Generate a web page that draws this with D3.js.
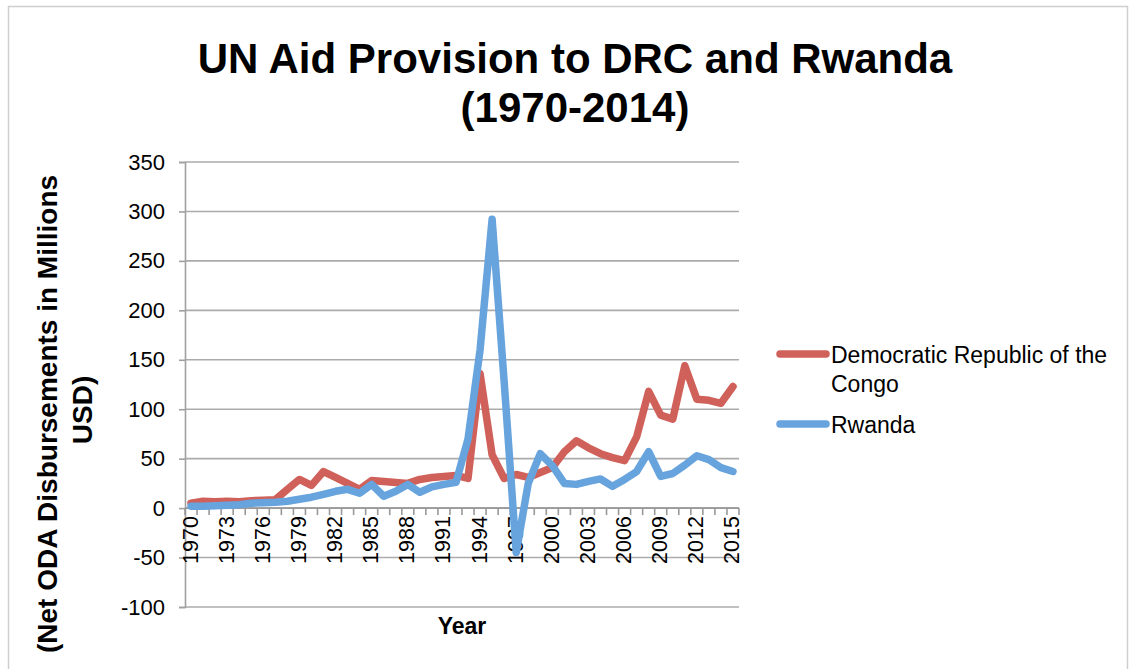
<!DOCTYPE html>
<html>
<head>
<meta charset="UTF-8">
<title>UN Aid Provision to DRC and Rwanda</title>
<script src="https://cdn.jsdelivr.net/npm/d3@7"></script>
<style>
  body { margin: 0; background: #fff; }
  text { font-family: "Liberation Sans", Arial, sans-serif; fill: #000; }
</style>
</head>
<body>
<script>
// years 1970..2015 on a category axis
var years = d3.range(1970, 2016);
var yTicks = [-100, -50, 0, 50, 100, 150, 200, 250, 300, 350];

var drc = [5, 7, 6.5, 7, 6.5, 7.5, 8, 8.5, 19, 29,
           23, 37, 31, 25, 19, 28, 27, 26, 25, 29,
           31, 32, 33, 30, 136, 54, 30, 34, 31, 36,
           41, 57, 68, 61, 55, 51, 48, 72, 118, 94,
           90, 144, 110, 109, 106, 123];
var rwanda = [2, 2, 2.5, 3, 3.5, 5, 5.5, 6, 7, 9,
              11, 14, 17, 19, 15, 24, 12, 17, 24, 16,
              21.5, 24, 26, 70, 160, 292, 128, -45, 25, 55,
              43, 25, 24, 27, 29.5, 22, 29, 37, 57, 32,
              35, 43.5, 53, 49, 41, 37];

var series = [
  {name: ["Democratic Republic of the", "Congo"], values: drc, color: "#d0605a"},
  {name: ["Rwanda"], values: rwanda, color: "#67a3dd"}
];

var W = 1135, H = 669;
var svg = d3.select("body").append("svg")
    .attr("width", W).attr("height", H);

svg.append("rect").attr("width", W).attr("height", H).attr("fill", "#fff");
// faint frame round the chart
svg.append("rect")
    .attr("x", 8.5).attr("y", 6.5).attr("width", 1119).attr("height", 700)
    .attr("fill", "none").attr("stroke", "#cfcfcf").attr("stroke-width", 1.5);

var x = d3.scaleBand().domain(years).range([185, 739]);
var y = d3.scaleLinear().domain([-100, 350]).range([607, 162]);
var bw = x.bandwidth();
function cx(yr) { return x(yr) + bw / 2; }

// gridlines
svg.append("g").selectAll("line")
    .data(yTicks).enter().append("line")
    .attr("x1", 185).attr("x2", 739)
    .attr("y1", function(d) { return y(d); })
    .attr("y2", function(d) { return y(d); })
    .attr("stroke", "#ababab").attr("stroke-width", 1.6);

// y axis (plain hyphen for negatives, as in the original)
var yAxis = svg.append("g").attr("transform", "translate(185,0)")
    .call(d3.axisLeft(y).tickValues(yTicks).tickSize(6).tickPadding(14)
      .tickFormat(function(d) { return String(d); }));
yAxis.select(".domain").attr("stroke", "#a0a0a0").attr("stroke-width", 1.6);
yAxis.selectAll(".tick line").attr("stroke", "#a0a0a0").attr("stroke-width", 1.6);
yAxis.selectAll("text")
    .attr("font-family", "Liberation Sans, Arial, sans-serif")
    .attr("font-size", 22).attr("fill", "#000");

// x axis at zero, ticks on category boundaries
var y0 = y(0);
svg.append("line")
    .attr("x1", 185).attr("x2", 739).attr("y1", y0).attr("y2", y0)
    .attr("stroke", "#999").attr("stroke-width", 1.8);
var bounds = years.map(function(d) { return x(d); }).concat([x.range()[1]]);
svg.append("g").selectAll("line")
    .data(bounds).enter().append("line")
    .attr("x1", function(d) { return d; }).attr("x2", function(d) { return d; })
    .attr("y1", y0).attr("y2", y0 + 7)
    .attr("stroke", "#999").attr("stroke-width", 1.6);

svg.append("g").selectAll("text")
    .data(years.filter(function(d, i) { return i % 3 === 0; }))
    .enter().append("text")
    .attr("transform", function(d) {
      return "translate(" + (cx(d) + 6.5) + "," + (y0 + 8) + ") rotate(-90)";
    })
    .attr("text-anchor", "end")
    .attr("font-size", 21.5)
    .text(function(d) { return d; });

// lines
var line = d3.line()
    .x(function(d, i) { return cx(years[i]); })
    .y(function(d) { return y(d); });

svg.append("g").selectAll("path")
    .data(series).enter().append("path")
    .attr("d", function(s) { return line(s.values); })
    .attr("fill", "none")
    .attr("stroke", function(s) { return s.color; })
    .attr("stroke-width", 7.5)
    .attr("stroke-linejoin", "round")
    .attr("stroke-linecap", "round");

// title
svg.append("text").attr("x", 575).attr("y", 73)
    .attr("text-anchor", "middle").attr("font-size", 42).attr("font-weight", "bold")
    .text("UN Aid Provision to DRC and Rwanda");
svg.append("text").attr("x", 575).attr("y", 122)
    .attr("text-anchor", "middle").attr("font-size", 42).attr("font-weight", "bold")
    .text("(1970-2014)");

// axis titles
svg.append("text").attr("x", 462).attr("y", 634)
    .attr("text-anchor", "middle").attr("font-size", 23).attr("font-weight", "bold")
    .text("Year");
svg.append("text").attr("transform", "translate(57,414) rotate(-90)")
    .attr("text-anchor", "middle").attr("font-size", 28).attr("font-weight", "bold")
    .text("(Net ODA Disbursements in Millions");
svg.append("text").attr("transform", "translate(92,410) rotate(-90)")
    .attr("text-anchor", "middle").attr("font-size", 28).attr("font-weight", "bold")
    .text("USD)");

// legend
var legendY = [354, 424];
var leg = svg.append("g").selectAll("g")
    .data(series).enter().append("g")
    .attr("transform", function(d, i) { return "translate(0," + legendY[i] + ")"; });
leg.append("line")
    .attr("x1", 780).attr("x2", 826).attr("y1", 0).attr("y2", 0)
    .attr("stroke", function(d) { return d.color; })
    .attr("stroke-width", 7.5).attr("stroke-linecap", "round");
leg.append("text").attr("x", 831).attr("y", 9)
    .attr("font-size", 23)
    .selectAll("tspan").data(function(d) { return d.name; }).enter().append("tspan")
    .attr("x", 831).attr("dy", function(d, i) { return i ? 28.5 : 0; })
    .text(function(d) { return d; });
</script>
</body>
</html>
